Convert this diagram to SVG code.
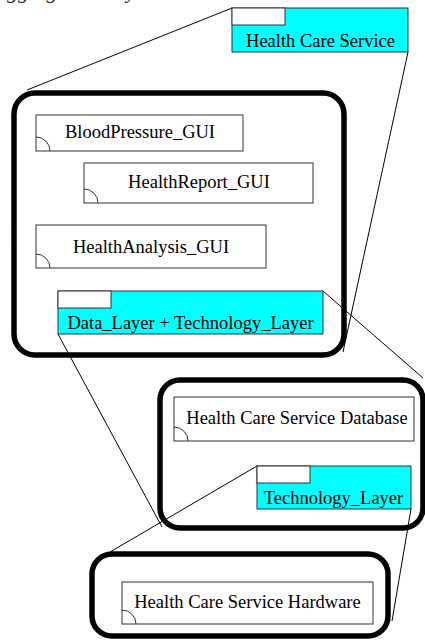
<svg xmlns="http://www.w3.org/2000/svg" width="425" height="640" viewBox="0 0 425 640">
  <style>
    text { font-family: 'Liberation Serif', Tinos, 'Nimbus Roman', 'DejaVu Serif', serif; }
    .lbl { font-size: 18.5px; fill: #000; text-anchor: middle; }
    .cap { font-size: 22px; font-style: italic; fill: #333; }
    .box { fill: #fff; stroke: #333; stroke-width: 1; }
    .pkg { fill: #00ffff; stroke: #333; stroke-width: 1; }
    .tab { fill: #fff; stroke: #333; stroke-width: 1; }
    .arc { fill: none; stroke: #333; stroke-width: 1; }
    .frame { fill: none; stroke: #000; stroke-width: 5.5; }
    .link { fill: none; stroke: #000; stroke-width: 1; }
  </style>

  <!-- caption above the diagram, mostly outside the page -->
  <text class="cap" y="-2"><tspan x="-4">aggregated</tspan><tspan x="118">system</tspan></text>

  <!-- aggregation frames -->
  <g id="frames">
    <rect id="frame-gui" class="frame" x="14" y="93" width="330" height="262" rx="21"/>
    <rect id="frame-data" class="frame" x="160" y="380" width="263" height="148" rx="20"/>
    <rect id="frame-hw" class="frame" x="92" y="554" width="296" height="82" rx="20"/>
  </g>

  <!-- zoom connectors from each package to its expanded frame -->
  <g id="connectors">
    <line class="link" x1="232" y1="8" x2="27" y2="90"/>
    <line class="link" x1="408" y1="52" x2="343" y2="352"/>
    <line class="link" x1="323" y1="291" x2="423" y2="378"/>
    <line class="link" x1="58" y1="334" x2="162" y2="527"/>
    <line class="link" x1="257" y1="466" x2="110" y2="552"/>
    <line class="link" x1="411" y1="509" x2="392" y2="621"/>
  </g>

  <g id="health-care-service">
    <rect class="pkg" x="232" y="8" width="176" height="44"/>
    <rect class="tab" x="232" y="8" width="53" height="17"/>
    <text class="lbl" x="320.5" y="47">Health Care Service</text>
  </g>

  <g id="bloodpressure-gui">
    <rect class="box" x="36" y="115" width="207" height="36"/>
    <path class="arc" d="M36,137 A14,14 0 0 1 50,151"/>
    <text class="lbl" x="140" y="138">BloodPressure_GUI</text>
  </g>

  <g id="healthreport-gui">
    <rect class="box" x="84" y="163" width="229" height="40"/>
    <path class="arc" d="M84,189 A14,14 0 0 1 98,203"/>
    <text class="lbl" x="199" y="188">HealthReport_GUI</text>
  </g>

  <g id="healthanalysis-gui">
    <rect class="box" x="36" y="225" width="230" height="43"/>
    <path class="arc" d="M36,254 A14,14 0 0 1 50,268"/>
    <text class="lbl" x="151" y="253">HealthAnalysis_GUI</text>
  </g>

  <g id="data-technology-layer">
    <rect class="pkg" x="58" y="291" width="265" height="43"/>
    <rect class="tab" x="58" y="291" width="53" height="17"/>
    <text class="lbl" x="190.5" y="329">Data_Layer + Technology_Layer</text>
  </g>

  <g id="hcs-database">
    <rect class="box" x="174" y="397" width="240" height="44"/>
    <path class="arc" d="M174,427 A14,14 0 0 1 188,441"/>
    <text class="lbl" x="297" y="424">Health Care Service Database</text>
  </g>

  <g id="technology-layer">
    <rect class="pkg" x="257" y="466" width="154" height="43"/>
    <rect class="tab" x="257" y="466" width="53" height="17"/>
    <text class="lbl" x="333.5" y="504">Technology_Layer</text>
  </g>

  <g id="hcs-hardware">
    <rect class="box" x="122" y="582" width="251" height="42"/>
    <path class="arc" d="M122,610 A14,14 0 0 1 136,624"/>
    <text class="lbl" x="247.5" y="608">Health Care Service Hardware</text>
  </g>
</svg>
